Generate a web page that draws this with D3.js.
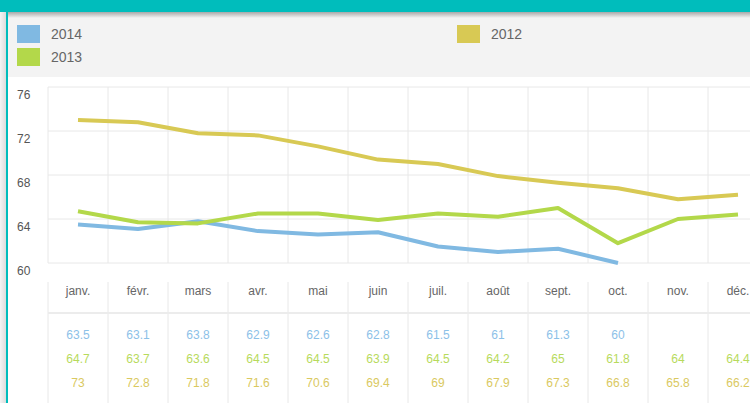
<!DOCTYPE html>
<html><head><meta charset="utf-8">
<script src="https://cdn.jsdelivr.net/npm/d3@7"></script>
<style>
html,body{margin:0;padding:0;background:#fff;overflow:hidden;}
svg{display:block;font-family:"Liberation Sans",Arial,sans-serif;}
</style></head>
<body><svg id="c" width="750" height="403"></svg>
<script>
const months = ["janv.","févr.","mars","avr.","mai","juin","juil.","août","sept.","oct.","nov.","déc."];
const seriesNames = ["2014","2013","2012"];
const v2014 = [63.5,63.1,63.8,62.9,62.6,62.8,61.5,61,61.3,60,null,null];
const v2013 = [64.7,63.7,63.6,64.5,64.5,63.9,64.5,64.2,65,61.8,64,64.4];
const v2012 = [73,72.8,71.8,71.6,70.6,69.4,69,67.9,67.3,66.8,65.8,66.2];
const yTicks = [60,64,68,72,76];

const lineColors = {"2014":"#80b9e2","2013":"#b3d84a","2012":"#d8c954"};
const textColors = {"2014":"#8cc1e8","2013":"#b7da5c","2012":"#dac95f"};
const values = {"2014":v2014,"2013":v2013,"2012":v2012};

const svg = d3.select("#c");
const W = 750, H = 403;

// header / frame
const defs = svg.append("defs");
const g1 = defs.append("linearGradient").attr("id","shadow").attr("x1",0).attr("y1",0).attr("x2",0).attr("y2",1);
g1.append("stop").attr("offset","0%").attr("stop-color","#a8a8a8");
g1.append("stop").attr("offset","100%").attr("stop-color","#f3f3f3");
const g2 = defs.append("linearGradient").attr("id","lshadow").attr("x1",0).attr("y1",0).attr("x2",1).attr("y2",0);
g2.append("stop").attr("offset","0%").attr("stop-color","#f4f4f4");
g2.append("stop").attr("offset","100%").attr("stop-color","#dcdcdc");

svg.append("rect").attr("x",0).attr("y",0).attr("width",W).attr("height",H).attr("fill","#fff");
svg.append("rect").attr("x",0).attr("y",12).attr("width",W).attr("height",65).attr("fill","#f3f3f3");
svg.append("rect").attr("x",0).attr("y",12).attr("width",W).attr("height",6).attr("fill","url(#shadow)");
svg.append("rect").attr("x",0).attr("y",0).attr("width",W).attr("height",12).attr("fill","#00bdbc");
svg.append("rect").attr("x",0).attr("y",12).attr("width",6).attr("height",H-12).attr("fill","url(#lshadow)");
svg.append("rect").attr("x",6).attr("y",0).attr("width",2).attr("height",H).attr("fill","#00bdbc");

// legend
const legendPos = {"2014":[17,25],"2013":[17,48],"2012":[457,25]};
seriesNames.forEach(s=>{
  const [lx,ly] = legendPos[s];
  svg.append("rect").attr("x",lx).attr("y",ly).attr("width",23).attr("height",18).attr("fill",lineColors[s]);
  svg.append("text").attr("x",lx+34).attr("y",ly+9).attr("dy","0.35em")
    .attr("font-size",14).attr("fill","#666").text(s);
});

// scales
const x = d3.scaleBand().domain(months).range([48,768]).padding(0);
const y = d3.scaleLinear().domain([60,76]).range([263,87]);
const gridColor = "#e8e8e8";

// horizontal grid
svg.append("g").selectAll("line").data(yTicks).join("line")
  .attr("x1",48).attr("x2",768).attr("y1",d=>y(d)).attr("y2",d=>y(d))
  .attr("stroke",gridColor).attr("stroke-width",1);
// vertical grid
const bounds = months.map(m=>x(m)).concat([x.range()[1]]);
svg.append("g").selectAll("line").data(bounds).join("line")
  .attr("x1",d=>d).attr("x2",d=>d).attr("y1",y(76)).attr("y2",y(60))
  .attr("stroke",gridColor).attr("stroke-width",1);

// y labels
svg.append("g").selectAll("text").data(yTicks).join("text")
  .attr("x",17).attr("y",d=>y(d)+8).attr("dy","0.35em")
  .attr("font-size",12).attr("fill","#555").text(d=>d);

// lines
const cx = m => x(m) + x.bandwidth()/2;
seriesNames.forEach(s=>{
  const pts = months.map((m,i)=>({m, v: values[s][i]}));
  const line = d3.line().defined(d=>d.v!=null).x(d=>cx(d.m)).y(d=>y(d.v));
  svg.append("path").datum(pts).attr("d",line)
    .attr("fill","none").attr("stroke",lineColors[s]).attr("stroke-width",4)
    .attr("stroke-linejoin","round").attr("stroke-linecap","butt");
});

// table
svg.append("g").selectAll("line").data(bounds).join("line")
  .attr("x1",d=>d).attr("x2",d=>d).attr("y1",282).attr("y2",H)
  .attr("stroke",gridColor).attr("stroke-width",1);
svg.append("line").attr("x1",48).attr("x2",W).attr("y1",313).attr("y2",313)
  .attr("stroke","#ececec").attr("stroke-width",2);

svg.append("g").selectAll("text").data(months).join("text")
  .attr("x",d=>cx(d)).attr("y",291).attr("dy","0.35em").attr("text-anchor","middle")
  .attr("font-size",12).attr("fill","#666").text(d=>d);

const rowY = {"2014":335,"2013":359,"2012":383};
seriesNames.forEach(s=>{
  const pts = months.map((m,i)=>({m, v: values[s][i]})).filter(d=>d.v!=null);
  svg.append("g").selectAll("text").data(pts).join("text")
    .attr("x",d=>cx(d.m)).attr("y",rowY[s]).attr("dy","0.35em").attr("text-anchor","middle")
    .attr("font-size",12).attr("fill",textColors[s]).text(d=>d.v);
});
</script></body></html>
